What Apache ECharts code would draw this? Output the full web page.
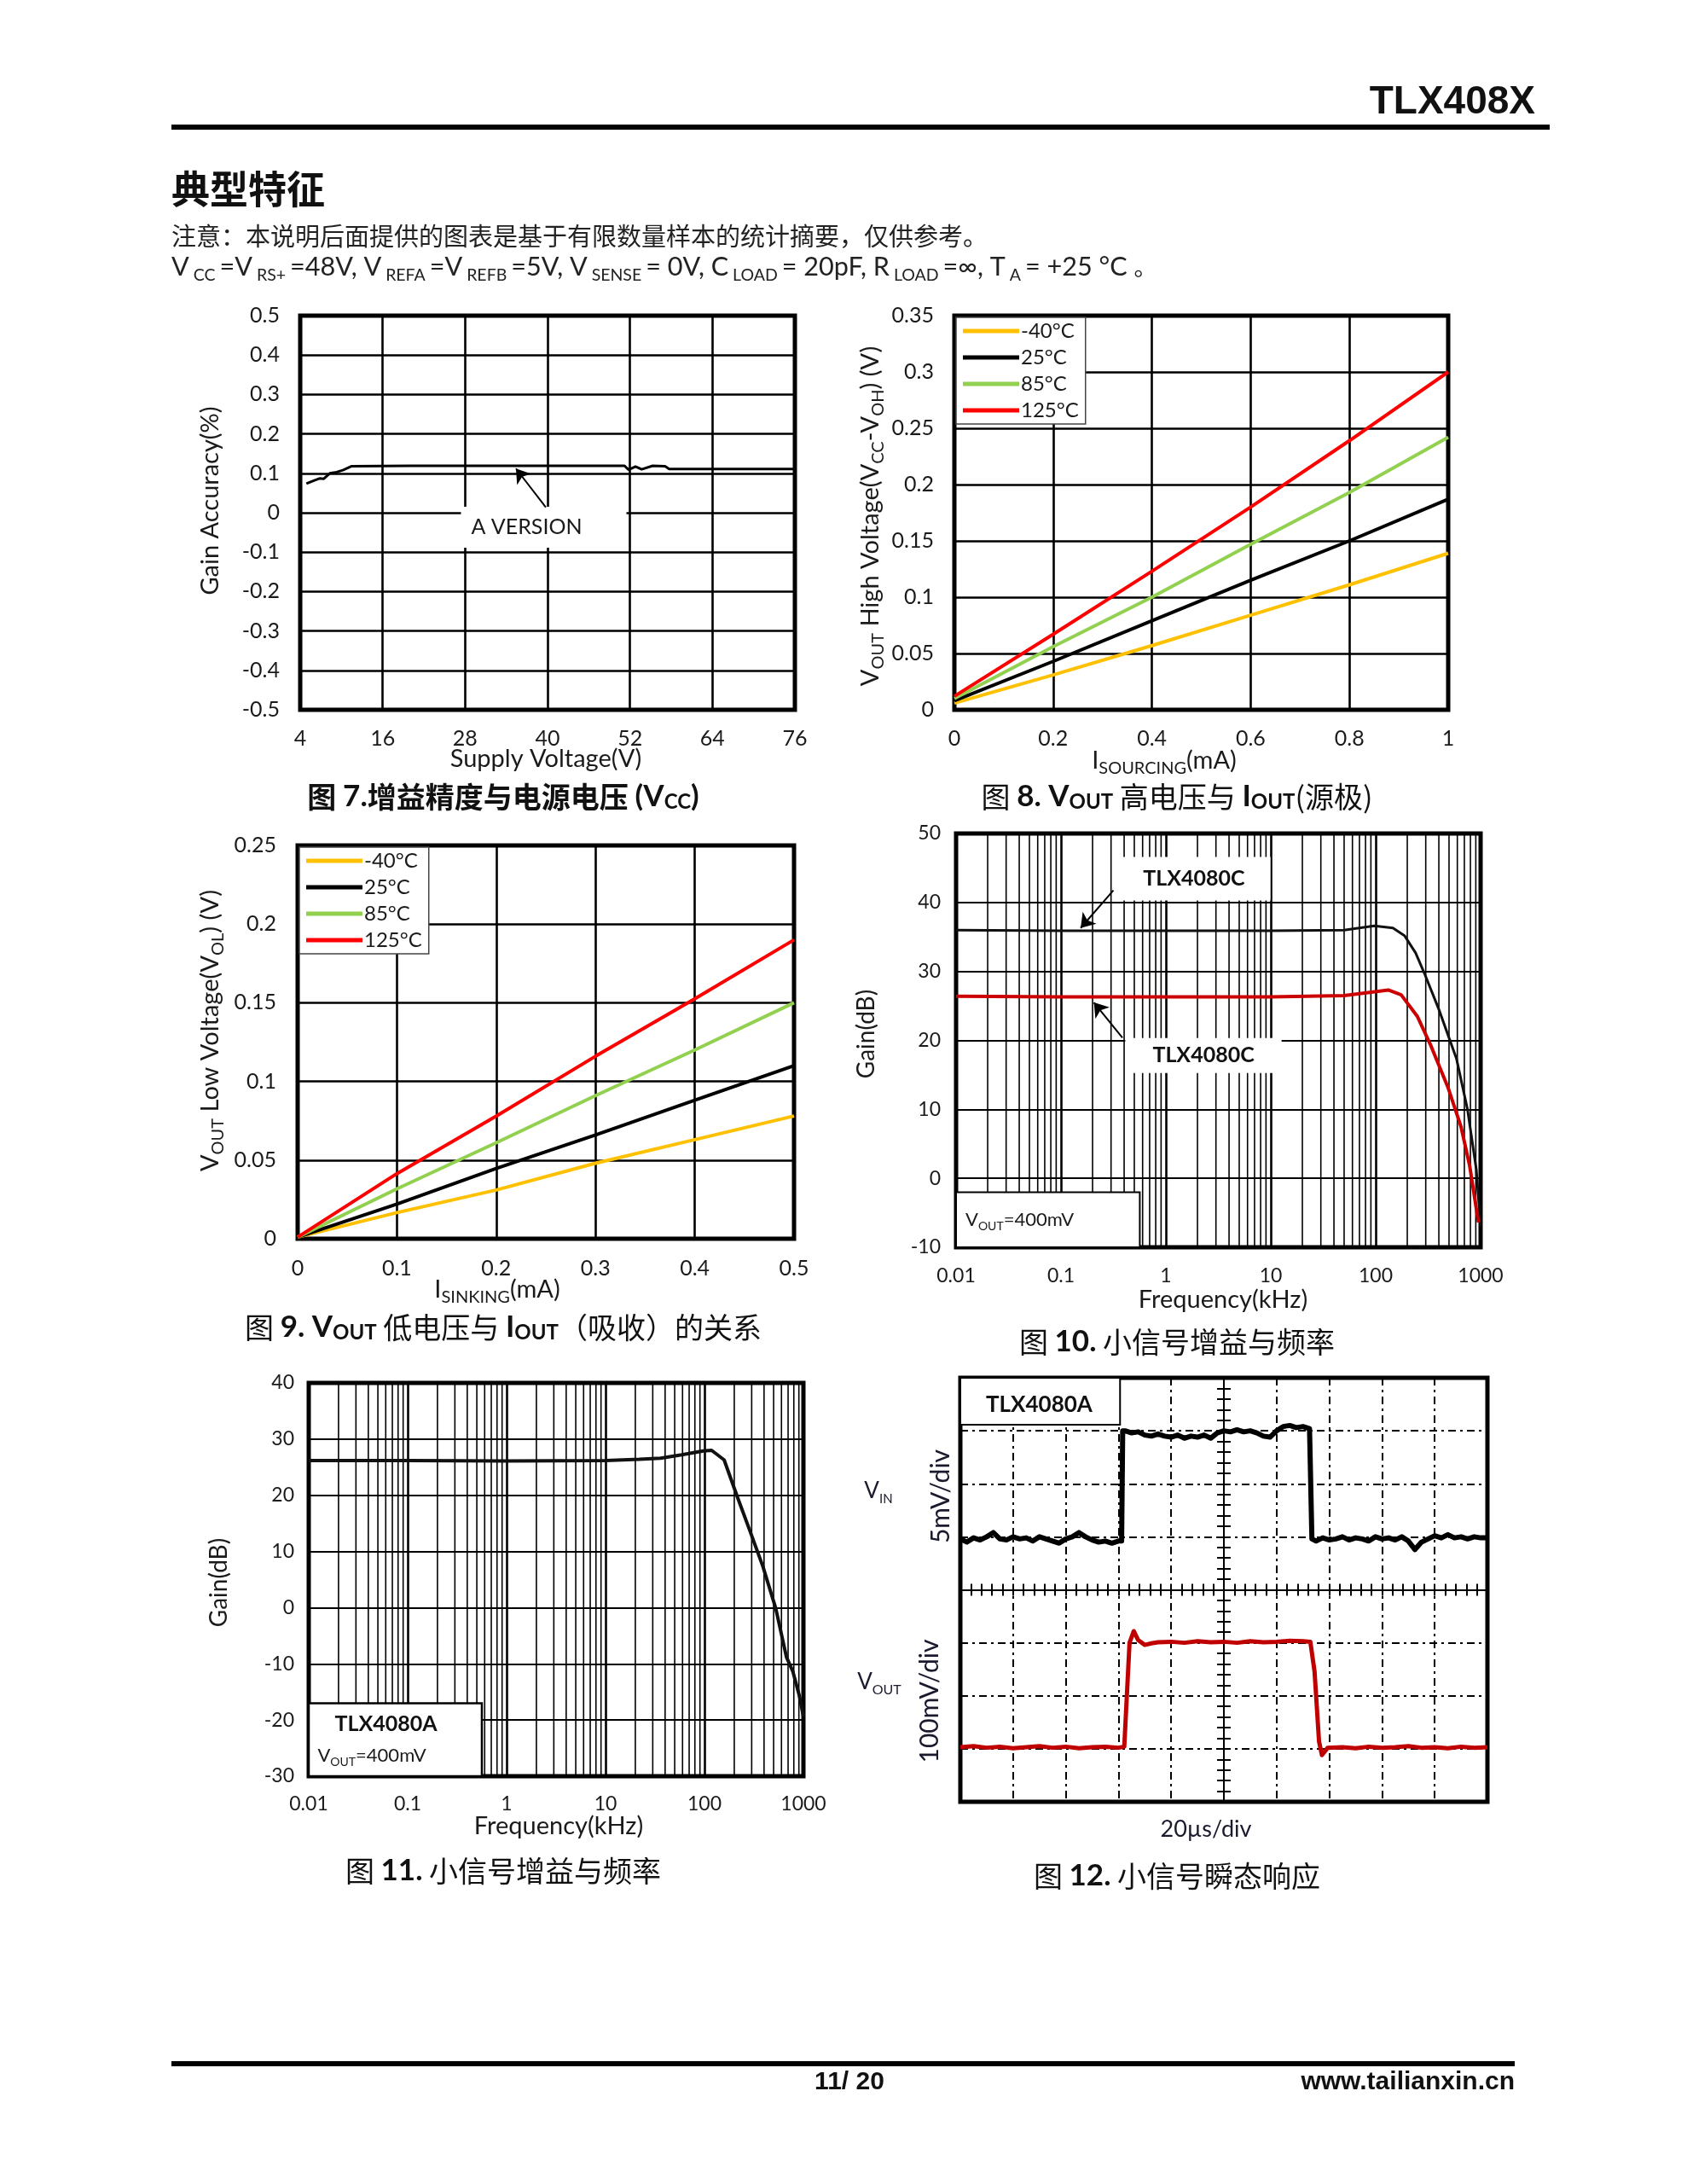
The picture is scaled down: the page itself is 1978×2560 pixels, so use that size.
<!DOCTYPE html>
<html><head><meta charset="utf-8">
<script src="https://cdn.jsdelivr.net/npm/echarts@6/dist/echarts.min.js"></script>
<style>html,body{margin:0;padding:0;background:#fff}#c{width:1978px;height:2560px}</style>
</head><body><div id="c"></div>
<script>
// ---------------- DATA ----------------
// Fig 7 Gain accuracy vs supply
const fig7XTicks = [4, 16, 28, 40, 52, 64, 76];
const fig7XLabels = ['4', '16', '28', '40', '52', '64', '76'];
const fig7YTicks = [-0.5, -0.4, -0.3, -0.2, -0.1, 0, 0.1, 0.2, 0.3, 0.4, 0.5];
const fig7YLabels = ['-0.5', '-0.4', '-0.3', '-0.2', '-0.1', '0', '0.1', '0.2', '0.3', '0.4', '0.5'];
const fig7Supply = [4.9, 5.9, 6.8, 7.4, 8.3, 9.3, 10.2, 11.5, 20, 30, 40, 51.2, 51.8, 52.8, 53.7, 55.3, 57.1, 57.7, 65, 76];
const fig7Gain = [0.074, 0.081, 0.087, 0.086, 0.100, 0.103, 0.108, 0.118, 0.119, 0.119, 0.119, 0.119, 0.109, 0.117, 0.110, 0.119, 0.118, 0.111, 0.111, 0.111];

// Fig 8 VOUT high vs sourcing current
const tempNames = ['-40°C', '25°C', '85°C', '125°C'];
const fig8XTicks = [0, 0.2, 0.4, 0.6, 0.8, 1];
const fig8XLabels = ['0', '0.2', '0.4', '0.6', '0.8', '1'];
const fig8YTicks = [0, 0.05, 0.1, 0.15, 0.2, 0.25, 0.3, 0.35];
const fig8YLabels = ['0', '0.05', '0.1', '0.15', '0.2', '0.25', '0.3', '0.35'];
const fig8Current = [0, 0.2, 0.4, 0.6, 0.8, 1.0];
const fig8Minus40 = [0.006, 0.031, 0.057, 0.084, 0.111, 0.139];
const fig8T25 = [0.008, 0.043, 0.079, 0.115, 0.150, 0.187];
const fig8T85 = [0.010, 0.056, 0.100, 0.147, 0.193, 0.242];
const fig8T125 = [0.012, 0.067, 0.123, 0.180, 0.239, 0.300];

// Fig 9 VOUT low vs sinking current
const fig9XTicks = [0, 0.1, 0.2, 0.3, 0.4, 0.5];
const fig9XLabels = ['0', '0.1', '0.2', '0.3', '0.4', '0.5'];
const fig9YTicks = [0, 0.05, 0.1, 0.15, 0.2, 0.25];
const fig9YLabels = ['0', '0.05', '0.1', '0.15', '0.2', '0.25'];
const fig9Current = [0, 0.1, 0.2, 0.3, 0.4, 0.5];
const fig9Minus40 = [0.001, 0.0166, 0.031, 0.048, 0.063, 0.078];
const fig9T25 = [0.001, 0.022, 0.0447, 0.066, 0.088, 0.110];
const fig9T85 = [0.001, 0.0317, 0.061, 0.091, 0.120, 0.150];
const fig9T125 = [0.001, 0.0414, 0.078, 0.116, 0.1525, 0.190];

// Log frequency axes (Fig 10, 11)
const freqTicks = [0.01, 0.1, 1, 10, 100, 1000];
const freqLabels = ['0.01', '0.1', '1', '10', '100', '1000'];
const logDecades = [0.01, 0.1, 1, 10, 100];
const logMultipliers = [2, 3, 4, 5, 6, 7, 8, 9];

// Fig 10 small-signal gain (two gains)
const fig10YTicks = [-10, 0, 10, 20, 30, 40, 50];
const fig10YLabels = ['-10', '0', '10', '20', '30', '40', '50'];
const fig10HighFreq = [0.01, 0.1, 1, 10, 50, 97, 146, 188, 240, 290, 400, 590, 750, 910, 1000];
const fig10HighGain = [36.0, 35.9, 35.9, 35.9, 36.0, 36.6, 36.3, 35.2, 32.7, 29.8, 24.5, 17.3, 10.0, 1.3, -7.0];
const fig10LowFreq = [0.01, 0.1, 1, 10, 50, 132, 175, 249, 332, 488, 650, 787, 908, 955];
const fig10LowGain = [26.4, 26.3, 26.3, 26.3, 26.5, 27.3, 26.6, 23.5, 19.4, 13.2, 7.5, 1.8, -4.3, -6.4];

// Fig 11 small-signal gain TLX4080A
const fig11YTicks = [-30, -20, -10, 0, 10, 20, 30, 40];
const fig11YLabels = ['-30', '-20', '-10', '0', '10', '20', '30', '40'];
const fig11Freq = [0.01, 0.1, 1, 10, 21.9, 36, 59, 97, 118, 158, 214, 289, 390, 525, 674, 780, 910, 1000];
const fig11Gain = [26.2, 26.2, 26.1, 26.2, 26.4, 26.6, 27.2, 27.9, 28.0, 26.3, 19.8, 13.6, 7.3, -0.1, -8.8, -11.3, -15.7, -19.4];

// Fig 12 transient (time in us, 20us/div; VIN 5mV/div; VOUT 100mV/div)
const vinTime = [-100, -97.5, -95, -92.5, -90, -87.5, -85, -82.5, -80, -77.5, -75, -72.5, -70, -67.5, -65, -62.5, -60, -57.5, -55, -52.5, -50, -47.5, -45, -42.5, -40,
  -38.8, -38.4,
  -37.5, -35, -32.5, -30, -27.5, -25, -22.5, -20, -17.5, -15, -12.5, -10, -7.5, -5, -2.5, 0, 2.5, 5, 7.5, 10, 12.5, 15, 17.5, 20, 22.5, 25, 27.5, 30, 32.5,
  33.0, 33.4,
  35, 37.5, 40, 42.5, 45, 47.5, 50, 52.5, 55, 57.5, 60, 62.5, 65, 67.5, 70, 72.5, 75, 77.5, 80, 82.5, 85, 87.5, 90, 92.5, 95, 97.5, 100];
const vinMv = [4.8, 4.5, 4.9, 4.7, 5.0, 5.4, 4.8, 4.7, 5.0, 4.8, 4.9, 4.6, 5.0, 4.8, 4.6, 4.4, 4.8, 5.0, 5.4, 5.0, 4.7, 4.5, 4.6, 4.4, 4.6,
  4.6, 15.0,
  15.0, 14.8, 14.9, 14.6, 14.5, 14.7, 14.5, 14.4, 14.6, 14.3, 14.5, 14.4, 14.6, 14.3, 14.8, 15.0, 14.9, 15.1, 14.9, 15.0, 14.8, 14.5, 14.4, 15.0, 15.4, 15.5, 15.3, 15.4, 15.2,
  15.1, 4.8,
  4.6, 4.9, 4.7, 4.8, 5.0, 4.7, 4.9, 4.8, 4.6, 5.0, 4.8, 4.9, 4.7, 5.0, 4.6, 3.8, 4.5, 4.8, 5.1, 4.9, 5.2, 4.9, 5.0, 4.8, 5.0, 4.9, 4.9];
const voutTime = [-100, -95, -90, -85, -80, -75, -70, -65, -60, -55, -50, -45, -40, -37.8, -35.8, -34.2, -32.5, -30, -27.5,
  -25, -20, -15, -10, -5, 0, 5, 10, 15, 20, 25, 30, 32.8, 34.4, 36.1, 37.2, 39.4,
  45, 50, 55, 60, 65, 70, 75, 80, 85, 90, 95, 100];
const voutMv = [-297, -295, -298, -296, -299, -297, -295, -298, -296, -299, -297, -296, -298, -296, -100, -78, -95, -104, -101,
  -99, -98, -100, -97, -99, -98, -100, -97, -99, -98, -96, -97, -98, -154, -286, -312, -298,
  -297, -299, -296, -298, -297, -295, -298, -297, -299, -296, -298, -297];

// ---------------- HELPERS ----------------
const TXT = '#1a1a1a';
const LAT = 'Lato, "Noto Sans", sans-serif';
const CJK = '"Noto Sans CJK SC", sans-serif';
const ARB = '"Liberation Sans", Arial, sans-serif';
const zip = (a, b) => a.map((v, i) => [v, b[i]]);
const lbl = (ticks, labels) => v => {
  for (let i = 0; i < ticks.length; i++) {
    if (Math.abs(ticks[i] - v) <= 1e-6 * Math.max(1, Math.abs(ticks[i]))) return labels[i];
  }
  return '';
};
const logMinorFreq = [];
logDecades.forEach(d => logMultipliers.forEach(m => logMinorFreq.push(+(d * m).toPrecision(3))));

function linAxis(gi, min, max, interval, ticks, labels, margin, fs, gw) {
  return {
    gridIndex: gi, type: 'value', min, max, interval,
    axisLine: { show: false }, axisTick: { show: false },
    axisLabel: { show: true, margin, fontSize: fs, fontFamily: LAT, color: TXT, formatter: lbl(ticks, labels) },
    splitLine: { show: true, lineStyle: { color: '#000', width: gw } }
  };
}
function logAxis(gi, margin) {
  return {
    gridIndex: gi, type: 'log', logBase: 10, min: 0.01, max: 1000,
    axisLine: { show: false }, axisTick: { show: false },
    axisLabel: { show: true, margin, fontSize: 23, fontFamily: LAT, color: TXT, formatter: lbl(freqTicks, freqLabels) },
    splitLine: { show: true, lineStyle: { color: '#000', width: 2.6 } }
  };
}
function minorLines(xi, yi, yMin, yMax) {
  return {
    type: 'custom', xAxisIndex: xi, yAxisIndex: yi, z: 1, silent: true,
    data: logMinorFreq.map(f => [f, yMin]), encode: { x: 0, y: 1 },
    renderItem: (p, api) => {
      const x = api.value(0);
      const a = api.coord([x, yMax]); const b = api.coord([x, yMin]);
      return { type: 'line', shape: { x1: a[0], y1: a[1], x2: b[0], y2: b[1] }, style: { stroke: '#000', lineWidth: 1.6 } };
    }
  };
}
const frame = g => Object.assign({ show: true, borderColor: '#000', borderWidth: 5, backgroundColor: 'rgba(0,0,0,0)' }, g);
const arrowLine = (pairs) => ({
  z: 6, silent: true, animation: false, symbol: ['none', 'arrow'], symbolSize: 16,
  label: { show: false }, emphasis: { disabled: true },
  itemStyle: { color: '#000' },
  lineStyle: { color: '#000', width: 2, type: 'solid' },
  data: pairs.map(p => [{ coord: p[0], symbol: 'none' }, { coord: p[1], symbol: 'arrow', symbolSize: 16 }])
});
const tempColors = ['#ffc000', '#000000', '#92d050', '#ff0000'];
function tempSeries(xi, x, ys) {
  return ys.map((y, k) => ({
    name: tempNames[k], type: 'line', xAxisIndex: xi, yAxisIndex: xi, symbol: 'none', showSymbol: false, z: 3,
    data: zip(x, y), lineStyle: { color: tempColors[k], width: 4 }, itemStyle: { color: tempColors[k] }
  }));
}
const legendBox = (left, top) => ({
  orient: 'vertical', left, top, itemWidth: 66, itemHeight: 5, itemGap: 7, icon: 'rect',
  padding: [4, 8, 4, 8], backgroundColor: '#fff', borderColor: '#444', borderWidth: 1.5,
  textStyle: { fontSize: 24, fontFamily: LAT, color: TXT, padding: [0, 0, 0, -3] }, selectedMode: false, data: tempNames, z: 6
});

// ---------------- AXES ----------------
const xAxes = [
  linAxis(0, 4, 76, 12, fig7XTicks, fig7XLabels, 21, 25, 2.6),
  linAxis(1, 0, 1, 0.2, fig8XTicks, fig8XLabels, 21, 25, 2.6),
  linAxis(2, 0, 0.5, 0.1, fig9XTicks, fig9XLabels, 22, 25, 2.6),
  logAxis(3, 22),
  logAxis(4, 21),
  { gridIndex: 5, type: 'value', min: -100, max: 100, interval: 20,
    axisLine: { show: true, onZero: true, lineStyle: { color: '#000', width: 2 } },
    axisTick: { show: true, inside: true, length: 7, lineStyle: { color: '#000', width: 2 } },
    minorTick: { show: true, splitNumber: 5, length: 7, lineStyle: { color: '#000', width: 2 } },
    axisLabel: { show: false },
    splitLine: { show: true, lineStyle: { color: '#000', width: 2, type: [9, 5, 3, 5] } } },
  { gridIndex: 5, type: 'value', position: 'top', min: -100, max: 100, interval: 20,
    axisLine: { show: true, onZero: true, lineStyle: { color: '#000', width: 2 } },
    axisTick: { show: true, inside: true, length: 7, lineStyle: { color: '#000', width: 2 } },
    minorTick: { show: true, splitNumber: 5, length: 7, lineStyle: { color: '#000', width: 2 } },
    axisLabel: { show: false }, splitLine: { show: false } }
];
const yAxes = [
  linAxis(0, -0.5, 0.5, 0.1, fig7YTicks, fig7YLabels, 24, 25, 2.6),
  linAxis(1, 0, 0.35, 0.05, fig8YTicks, fig8YLabels, 24, 25, 2.6),
  linAxis(2, 0, 0.25, 0.05, fig9YTicks, fig9YLabels, 25, 25, 2.6),
  linAxis(3, -10, 50, 10, fig10YTicks, fig10YLabels, 18, 23, 2.2),
  linAxis(4, -30, 40, 10, fig11YTicks, fig11YLabels, 17, 23, 2.2),
  { gridIndex: 5, type: 'value', min: -20, max: 20, interval: 5,
    axisLine: { show: true, onZero: true, lineStyle: { color: '#000', width: 2 } },
    axisTick: { show: true, inside: true, length: 8, lineStyle: { color: '#000', width: 2 } },
    minorTick: { show: true, splitNumber: 5, length: 8, lineStyle: { color: '#000', width: 2 } },
    axisLabel: { show: false },
    splitLine: { show: true, lineStyle: { color: '#000', width: 2, type: [9, 5, 3, 5] } } },
  { gridIndex: 5, type: 'value', position: 'right', min: -400, max: 400, interval: 100,
    axisLine: { show: true, onZero: true, lineStyle: { color: '#000', width: 2 } },
    axisTick: { show: true, inside: true, length: 8, lineStyle: { color: '#000', width: 2 } },
    minorTick: { show: true, splitNumber: 5, length: 8, lineStyle: { color: '#000', width: 2 } },
    axisLabel: { show: false }, splitLine: { show: false } }
];

// ---------------- SERIES ----------------
const series = [];
series.push({
  name: 'A VERSION', type: 'line', xAxisIndex: 0, yAxisIndex: 0, symbol: 'none', z: 3,
  data: zip(fig7Supply, fig7Gain), lineStyle: { color: '#000', width: 3 },
  markPoint: { z: 5, silent: true, animation: false, symbol: 'circle', symbolSize: 0,
    data: [{ coord: [39.44, -0.037], value: 1 }],
    label: { show: true, position: 'inside', formatter: 'A VERSION', fontFamily: LAT, fontSize: 25, color: TXT,
      lineHeight: 26, backgroundColor: '#fff', padding: [17, 52, 5, 12] } },
  markLine: arrowLine([[[39.75, 0.014], [35.4, 0.112]]])
});
series.push(...tempSeries(1, fig8Current, [fig8Minus40, fig8T25, fig8T85, fig8T125]));
series.push(...tempSeries(2, fig9Current, [fig9Minus40, fig9T25, fig9T85, fig9T125]));

const boldTag = { fontFamily: LAT, fontWeight: 'bold', fontSize: 25, color: '#111', backgroundColor: '#fff' };
const voutRich = {
  v: { fontFamily: LAT, fontSize: 22, color: TXT, lineHeight: 30 },
  s: { fontFamily: LAT, fontSize: 14, color: TXT, verticalAlign: 'bottom' }
};
series.push(minorLines(3, 3, -10, 50));
series.push({
  name: 'TLX4080C 36dB', type: 'line', xAxisIndex: 3, yAxisIndex: 3, symbol: 'none', z: 3,
  data: zip(fig10HighFreq, fig10HighGain), lineStyle: { color: '#111', width: 3 },
  markPoint: { z: 5, silent: true, animation: false, symbol: 'circle', symbolSize: 0,
    data: [{ coord: [1.855, 43.45], value: 1, label: Object.assign({ padding: [13, 30] }, boldTag) },
           { coord: [2.28, 17.8], value: 2, label: Object.assign({ padding: [8, 32] }, boldTag) }],
    label: { show: true, position: 'inside', formatter: 'TLX4080C' } },
  markLine: arrowLine([[[0.316, 41.75], [0.154, 36.3]], [[0.385, 20.4], [0.206, 25.5]]])
});
series.push({
  name: 'TLX4080C 26dB', type: 'line', xAxisIndex: 3, yAxisIndex: 3, symbol: 'none', z: 3,
  data: zip(fig10LowFreq, fig10LowGain), lineStyle: { color: '#cc0000', width: 4 },
  markArea: { z: 4, silent: true, animation: false,
    itemStyle: { color: '#fff', borderColor: '#000', borderWidth: 2 },
    label: { show: true, position: 'insideLeft', distance: 12, formatter: '{v|V}{s|OUT}{v|=400mV}', rich: voutRich },
    data: [[{ coord: [0.01, -2.03] }, { coord: [0.564, -10] }]] }
});
series.push(minorLines(4, 4, -30, 40));
series.push({
  name: 'TLX4080A', type: 'line', xAxisIndex: 4, yAxisIndex: 4, symbol: 'none', z: 3,
  data: zip(fig11Freq, fig11Gain), lineStyle: { color: '#111', width: 4 },
  markArea: { z: 4, silent: true, animation: false,
    itemStyle: { color: '#fff', borderColor: '#000', borderWidth: 2.5 }, label: { show: false },
    data: [[{ coord: [0.01, -17.0] }, { coord: [0.562, -30] }]] },
  markPoint: { z: 5, silent: true, animation: false, symbol: 'circle', symbolSize: 0,
    data: [{ coord: [0.0603, -20.7], value: 1,
             label: { position: 'inside', formatter: 'TLX4080A', fontFamily: LAT, fontWeight: 'bold', fontSize: 25, color: '#111' } },
           { coord: [0.0123, -26.3], value: 2,
             label: { position: 'right', distance: 0, formatter: '{v|V}{s|OUT}{v|=400mV}', rich: voutRich } }],
    label: { show: true } }
});
series.push({
  name: 'VIN', type: 'line', xAxisIndex: 5, yAxisIndex: 5, symbol: 'none', z: 3,
  data: zip(vinTime, vinMv), lineStyle: { color: '#000', width: 6, join: 'round' },
  markArea: { z: 4, silent: true, animation: false,
    itemStyle: { color: '#fff', borderColor: '#000', borderWidth: 2 }, label: { show: false },
    data: [[{ coord: [-100, 20] }, { coord: [-39.4, 15.57] }]] },
  markPoint: { z: 5, silent: true, animation: false, symbol: 'circle', symbolSize: 0,
    data: [{ coord: [-70.1, 17.46], value: 1 }],
    label: { show: true, position: 'inside', formatter: 'TLX4080A', fontFamily: LAT, fontWeight: 'bold', fontSize: 26, color: '#111' } }
});
series.push({
  name: 'VOUT', type: 'line', xAxisIndex: 5, yAxisIndex: 6, symbol: 'none', z: 3,
  data: zip(voutTime, voutMv), lineStyle: { color: '#c00000', width: 5, join: 'round' }
});

// ---------------- PAGE TEXT ----------------
function T(x, y, text, st, extra) {
  return Object.assign({ type: 'text', x, y, z: 100, silent: true,
    style: Object.assign({ text, fill: TXT, align: 'center', verticalAlign: 'middle', fontFamily: LAT, fontSize: 29 }, st) }, extra || {});
}
const nameRich = {
  n: { fontFamily: LAT, fontSize: 29, fill: TXT, lineHeight: 38 },
  s: { fontFamily: LAT, fontSize: 20, fill: TXT, verticalAlign: 'bottom' }
};
const capRich = {
  c: { fontFamily: CJK, fontSize: 34, fill: '#111', lineHeight: 36 },
  cb: { fontFamily: CJK, fontSize: 34, fontWeight: 'bold', fill: '#111', lineHeight: 36 },
  b: { fontFamily: LAT, fontSize: 35, fontWeight: 'bold', fill: '#111', lineHeight: 36 },
  bs: { fontFamily: LAT, fontSize: 24, fontWeight: 'bold', fill: '#111', verticalAlign: 'bottom' }
};
const condRich = {
  m: { fontFamily: LAT, fontSize: 30.6, fill: '#222', lineHeight: 40 },
  s: { fontFamily: LAT, fontSize: 19.5, fill: '#222', verticalAlign: 'bottom' },
  z: { fontFamily: CJK, fontSize: 27, fill: '#222', lineHeight: 40 }
};
const sideRich = (f) => ({ n: { fontFamily: LAT, fontSize: 26, fill: '#1a1a2e', lineHeight: 34 }, s: { fontFamily: LAT, fontSize: f, fill: '#1a1a2e', verticalAlign: 'bottom' } });
const R = Math.PI / 2;
const graphics = [
  T(1800, 120, 'TLX408X', { fontFamily: ARB, fontWeight: 'bold', fontSize: 46, fill: '#111', align: 'right' }),
  { type: 'rect', z: 100, silent: true, shape: { x: 201, y: 146, width: 1616, height: 6 }, style: { fill: '#000' } },
  T(201, 222, '典型特征', { fontFamily: CJK, fontWeight: 'bold', fontSize: 45, fill: '#111', align: 'left' }),
  T(201, 277, '注意：本说明后面提供的图表是基于有限数量样本的统计摘要，仅供参考。', { fontFamily: CJK, fontSize: 29, fill: '#222', align: 'left' }),
  T(201, 313, '{m|V}{s| CC }{m|=V}{s| RS+ }{m|=48V, V}{s| REFA }{m|=V}{s| REFB }{m|=5V, V}{s| SENSE }{m|= 0V, C}{s| LOAD }{m|= 20pF, R}{s| LOAD }{m|=∞, T}{s| A }{m|= +25 °C }{z|。}',
    { rich: condRich, align: 'left' }),
  { type: 'rect', z: 100, silent: true, shape: { x: 201, y: 2416, width: 1575, height: 6 }, style: { fill: '#000' } },
  T(996, 2441, '11/ 20', { fontFamily: ARB, fontWeight: 'bold', fontSize: 30, fill: '#111' }),
  T(1776, 2441, 'www.tailianxin.cn', { fontFamily: ARB, fontWeight: 'bold', fontSize: 30, fill: '#111', align: 'right' }),

  // Fig 7
  T(247, 587, 'Gain Accuracy(%)', {}, { rotation: R }),
  T(640, 890, 'Supply Voltage(V)', {}),
  T(590, 934, '{cb|图 }{b|7.}{cb|增益精度与电源电压 }{b|(V}{bs|CC}{b|)}', { rich: capRich }),
  // Fig 8
  T(1021, 605, '{n|V}{s|OUT}{n| High Voltage(V}{s|CC}{n|-V}{s|OH}{n|) (V)}', { rich: nameRich }, { rotation: R }),
  T(1365, 892, '{n|I}{s|SOURCING}{n|(mA)}', { rich: nameRich }),
  T(1380, 934, '{c|图 }{b|8. V}{bs|OUT}{c| 高电压与 }{b|I}{bs|OUT}{c|(源极)}', { rich: capRich }),
  // Fig 9
  T(247, 1208, '{n|V}{s|OUT}{n| Low Voltage(V}{s|OL}{n|) (V)}', { rich: nameRich }, { rotation: R }),
  T(583, 1512, '{n|I}{s|SINKING}{n|(mA)}', { rich: nameRich }),
  T(590, 1556, '{c|图 }{b|9. V}{bs|OUT}{c| 低电压与 }{b|I}{bs|OUT}{c|（吸收）的关系}', { rich: capRich }),
  // Fig 10
  T(1016, 1212, 'Gain(dB)', { fontSize: 28 }, { rotation: R }),
  T(1434, 1524, 'Frequency(kHz)', { fontSize: 29 }),
  T(1380, 1573, '{c|图 }{b|10.}{c| 小信号增益与频率}', { rich: capRich }),
  // Fig 11
  T(257, 1855, 'Gain(dB)', { fontSize: 28 }, { rotation: R }),
  T(655, 2141, 'Frequency(kHz)', { fontSize: 29 }),
  T(590, 2193, '{c|图 }{b|11.}{c| 小信号增益与频率}', { rich: capRich }),
  // Fig 12
  T(1030, 1748, '{n|V}{s|IN}', { rich: sideRich(15) }),
  T(1103, 1754, '5mV/div', { fontSize: 30, fill: '#1a1a2e' }, { rotation: R }),
  T(1031, 1972, '{n|V}{s|OUT}', { rich: sideRich(16) }),
  T(1090, 1994, '100mV/div', { fontSize: 30, fill: '#1a1a2e' }, { rotation: R }),
  T(1414, 2144, '20µs/div', { fontSize: 27, fill: '#1a1a2e' }),
  T(1380, 2199, '{c|图 }{b|12.}{c| 小信号瞬态响应}', { rich: capRich })
];

// ---------------- OPTION ----------------
const option = {
  animation: false,
  backgroundColor: '#fff',
  textStyle: { fontFamily: LAT },
  grid: [
    frame({ left: 352, top: 370, width: 580, height: 462 }),
    frame({ left: 1119, top: 370, width: 579, height: 462 }),
    frame({ left: 349, top: 991, width: 582, height: 461 }),
    frame({ left: 1121, top: 977, width: 615, height: 485 }),
    frame({ left: 362, top: 1621, width: 580, height: 461 }),
    frame({ left: 1126, top: 1615, width: 618, height: 497 })
  ],
  xAxis: xAxes,
  yAxis: yAxes,
  legend: [legendBox(1121, 372), legendBox(351, 993)],
  series,
  graphic: { elements: graphics }
};
const chart = echarts.init(document.getElementById('c'), null, { renderer: 'canvas', width: 1978, height: 2560 });
chart.setOption(option);
</script></body></html>
